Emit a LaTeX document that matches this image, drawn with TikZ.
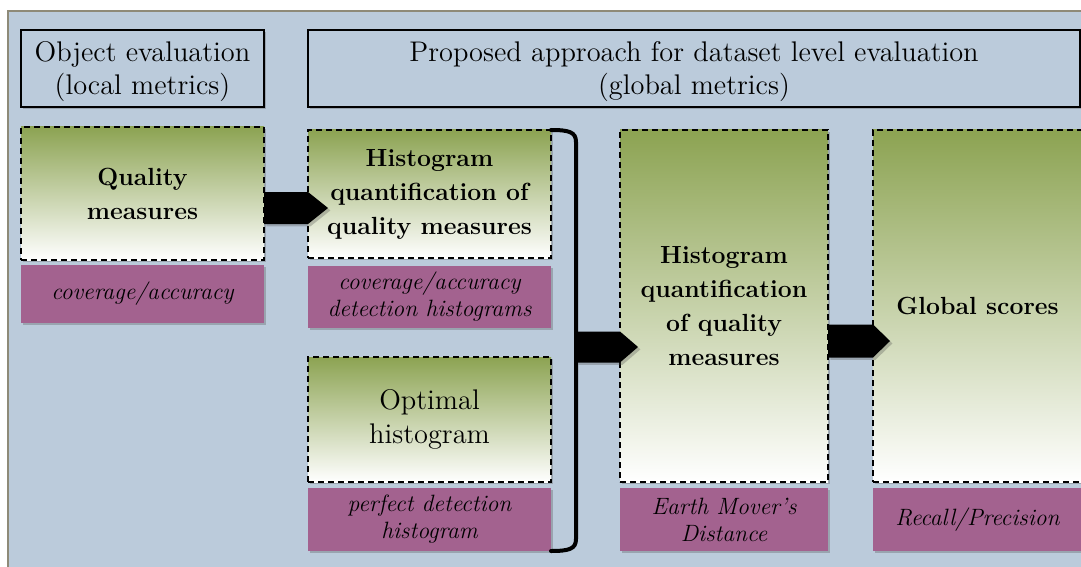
\documentclass[tikz,border=0pt]{standalone}
\usepackage{fontspec}
\usetikzlibrary{calc,shadows}

\definecolor{panelbg}{HTML}{BBCBDB}
\definecolor{leaf}{HTML}{8CA352}
\definecolor{plum}{HTML}{A3628F}
\definecolor{rim}{HTML}{8E8A78}

\tikzset{
  softshadow/.style={drop shadow={shadow xshift=1.2pt, shadow yshift=-1.2pt, opacity=0.3, fill=black!70}},
  boxsize/.style 2 args={minimum width=#1pt, minimum height=#2pt},
  header/.style={draw=black, line width=0.8pt, fill=panelbg, inner sep=0pt, outer sep=0pt, softshadow},
  headtext/.style={align=center, inner sep=0pt, font=\fontsize{14.2}{16.5}\selectfont},
  stage/.style={draw=black, line width=0.7pt, dash pattern=on 3pt off 2pt,
    top color=leaf, bottom color=white, inner sep=0pt, outer sep=0pt, align=center, softshadow},
  boldtext/.style={font=\bfseries\fontsize{12.4}{17}\selectfont},
  plaintext/.style={font=\fontsize{14.2}{17}\selectfont},
  tag/.style={fill=plum, inner sep=0pt, outer sep=0pt, align=center,
    font=\itshape\fontsize{11.8}{13.5}\selectfont, softshadow},
  arrowbody/.style={fill=black, softshadow},
  brace/.style={draw=black, line width=2pt, line cap=round},
}

% fat arrow: #1 start of the body, #2 base of the head, #3 half height, #4 head length
\newcommand\fatarrow[4]{%
  \fill[arrowbody] ($(#1)+(0,-#3)$) -- ($(#2)+(0,-#3)$) -- ($(#2)+(#4,0)$)
    -- ($(#2)+(0,#3)$) -- ($(#1)+(0,#3)$) -- cycle;}

\begin{document}
\begin{tikzpicture}[x=0.5pt,y=-0.5pt]
  \useasboundingbox (0,0) rectangle (1081,567);
  \clip (0,0) rectangle (1081,567);

  % panel
  \fill[white] (0,0) rectangle (1081,567);
  \draw[fill=panelbg, draw=rim, line width=0.6pt] (8,11) rectangle (1090,580);

  % headers
  \node[header, boxsize={121.5}{38.5}] (h1) at (142.5,68.5) {};
  \node[header, boxsize={386}{38.5}] (h2) at (694,68.5) {};
  \node[headtext] (h1t) at ($(h1)+(0,3)$) {Object evaluation\\(local metrics)};
  \node[headtext] (h2t) at ($(h2)+(0,3)$) {Proposed approach for dataset level evaluation\\(global metrics)};

  % first column
  \node[stage, boldtext, boxsize={121.5}{66.5}] (qm) at (142.5,193.5) {Quality\\measures};
  \node[tag, boxsize={121.5}{29}] (qmt) at (142.5,294) {coverage/accuracy};

  % second column
  \node[stage, boldtext, boxsize={121.5}{64}] (hq) at (429.5,194) {Histogram\\quantification of\\quality measures};
  \node[tag, boxsize={121.5}{31}] (hqt) at (429.5,297) {coverage/accuracy\\detection histograms};
  \node[stage, plaintext, boxsize={121.5}{62.5}] (oh) at (429.5,419.5) {Optimal\\histogram};
  \node[tag, boxsize={121.5}{31.5}] (oht) at (429.5,519.5) {perfect detection\\histogram};

  % third column
  \node[stage, boldtext, boxsize={104}{176}] (emd) at (724,306) {Histogram\\quantification\\of quality\\measures};
  \node[tag, boxsize={104}{31.5}] (emdt) at (724,519.5) {Earth Mover's\\Distance};

  % fourth column
  \node[stage, boldtext, boxsize={104.5}{176}] (gs) at (977.5,306) {Global scores};
  \node[tag, boxsize={104.5}{31.5}] (gst) at (977.5,519.5) {Recall/Precision};

  % bracket joining the two histograms
  \draw[brace] (hq.north east) .. controls +(18,0) and +(0,-10) .. ($(hq.north east)+(25,12)$)
    -- ($(oht.south east)+(25,-12)$) .. controls +(0,10) and +(18,0) .. (oht.south east);
  \coordinate (brk) at (576,347);

  % arrows
  \coordinate (a1s) at (qm.east |- 0,208);
  \coordinate (a1e) at (hq.west |- 0,208);
  \fatarrow{a1s}{a1e}{16}{20}
  \coordinate (a2e) at (emd.west |- brk);
  \fatarrow{brk}{a2e}{15.5}{18}
  \coordinate (a3s) at (emd.east |- 0,341);
  \coordinate (a3e) at (gs.west |- 0,341);
  \fatarrow{a3s}{a3e}{16.5}{17}
\end{tikzpicture}
\end{document}
